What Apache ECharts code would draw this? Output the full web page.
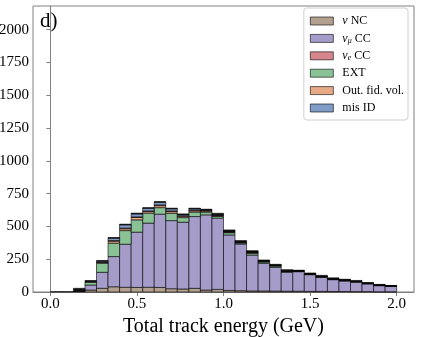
<!doctype html>
<html>
<head>
<meta charset="UTF-8" />
<title>Total track energy</title>
<script src="https://cdn.jsdelivr.net/npm/echarts@6/dist/echarts.min.js"></script>
<style>
  html, body { margin: 0; padding: 0; background: #fff; }
  #chart { width: 421px; height: 337px; }
</style>
</head>
<body>
<div id="chart"></div>
<script>
  // 30 bins between 0 and 2 GeV
  const binStart = 0;
  const binWidth = 2 / 30;

  // events per bin, bottom of stack first
  const nuNC   = [3, 3, 0, 15, 28, 40, 36, 35, 36, 35, 25, 23, 28, 15, 20, 12, 10, 8, 8, 7, 6, 6, 5, 5, 4, 4, 3, 3, 2, 2];
  const numuCC = [0, 0, 0, 38, 122, 230, 328, 421, 489, 558, 519, 509, 547, 573, 543, 423, 356, 274, 211, 181, 144, 149, 127, 107, 90, 80, 72, 59, 46, 40];
  const ext    = [0, 0, 0, 21, 69, 102, 104, 94, 76, 50, 56, 35, 34, 21, 13, 17, 8, 14, 10, 10, 6, 3, 3, 3, 3, 3, 3, 2, 2, 2];
  const oofv   = [0, 0, 0, 4, 7, 15, 14, 18, 12, 15, 13, 10, 10, 8, 5, 4, 3, 3, 3, 3, 2, 2, 2, 2, 2, 2, 1, 1, 1, 1];
  const nueCC  = [0, 0, 0, 2, 3, 5, 5, 5, 5, 6, 5, 5, 5, 4, 3, 3, 2, 2, 2, 2, 2, 1, 1, 1, 1, 1, 1, 1, 1, 1];
  const misID  = [0, 0, 0, 4, 7, 18, 25, 22, 20, 20, 16, 9, 10, 4, 4, 3, 2, 2, 2, 2, 2, 1, 1, 1, 1, 1, 1, 1, 1, 1];
  const other  = [0, 0, 28, 2, 3, 5, 5, 6, 5, 5, 5, 4, 5, 6, 12, 11, 11, 12, 8, 6, 8, 4, 6, 8, 7, 6, 7, 5, 5, 3];

  const xTicks = [0, 0.5, 1.0, 1.5, 2.0];
  const yTicks = [0, 250, 500, 750, 1000, 1250, 1500, 1750, 2000];

  const layers = [
    { name: 'nuNC',   values: nuNC,   color: '#b3a190' },
    { name: 'numuCC', values: numuCC, color: '#a69cca' },
    { name: 'EXT',    values: ext,    color: '#88c295' },
    { name: 'OOFV',   values: oofv,   color: '#e7a986' },
    { name: 'nueCC',  values: nueCC,  color: '#d6868a' },
    { name: 'misID',  values: misID,  color: '#829cc8' },
    { name: 'other',  values: other,  color: '#111111' }
  ];

  const labels = {
    nuNC: '{g|}{n|ν}{t| NC}',
    numuCC: '{g|}{n|ν}{s|μ}{t| CC}',
    nueCC: '{g|}{n|ν}{s|e}{t| CC}',
    EXT: '{g|}{t|EXT}',
    OOFV: '{g|}{t|Out. fid. vol.}',
    misID: '{g|}{t|mis ID}'
  };

  const base = new Array(nuNC.length).fill(0);
  const series = layers.map(l => {
    const data = [];
    l.values.forEach((v, i) => {
      const x0 = binStart + i * binWidth;
      if (v > 0) data.push([x0, x0 + binWidth, base[i], base[i] + v]);
      base[i] += v;
    });
    return {
      type: 'custom',
      name: l.name,
      itemStyle: { color: l.color, borderColor: 'rgba(0,0,0,0.6)', borderWidth: 1 },
      encode: { x: [0, 1], y: [2, 3] },
      renderItem: (params, api) => {
        const a = api.coord([api.value(0), api.value(3)]);
        const b = api.coord([api.value(1), api.value(2)]);
        return {
          type: 'rect',
          shape: { x: a[0], y: a[1], width: b[0] - a[0], height: b[1] - a[1] },
          style: { fill: l.color, stroke: 'rgba(0,0,0,0.6)', lineWidth: 1 }
        };
      },
      data: data
    };
  });

  const serif = '"Liberation Serif", "DejaVu Serif", serif';
  const chart = echarts.init(document.getElementById('chart'), null, { renderer: 'canvas' });
  chart.setOption({
    animation: false,
    grid: { left: 33, right: 7, top: 6, bottom: 45, outerBoundsMode: 'none', containLabel: false,
      show: true, borderColor: '#808080', borderWidth: 1 },
    xAxis: {
      type: 'value', min: -0.1, max: 2.1,
      name: 'Total track energy (GeV)', nameLocation: 'middle', nameGap: 24,
      nameTextStyle: { fontFamily: serif, fontSize: 20, color: '#000' },
      axisLine: { show: true, lineStyle: { color: '#808080' } },
      axisTick: { show: true, length: 4, lineStyle: { color: '#808080' }, customValues: xTicks },
      axisLabel: { fontFamily: serif, fontSize: 15, color: '#000', margin: 5, customValues: xTicks,
        formatter: v => v.toFixed(1) },
      splitLine: { show: false }
    },
    yAxis: {
      type: 'value', min: 0, max: 2180,
      axisLine: { show: true, lineStyle: { color: '#808080' } },
      axisTick: { show: true, length: 4, lineStyle: { color: '#808080' }, customValues: yTicks },
      axisLabel: { fontFamily: serif, fontSize: 15, color: '#000', margin: 4, customValues: yTicks,
        formatter: v => String(v) },
      splitLine: { show: false }
    },
    legend: {
      data: ['nuNC', 'numuCC', 'nueCC', 'EXT', 'OOFV', 'misID'],
      orient: 'vertical', right: 13, top: 8,
      itemWidth: 23, itemHeight: 8, itemGap: 5.4,
      padding: [7, 4, 6, 6],
      backgroundColor: '#fff', borderColor: '#d0d0d0', borderWidth: 1, borderRadius: 3,
      icon: 'rect',
      itemStyle: { borderColor: 'rgba(0,0,0,0.6)', borderWidth: 1 },
      formatter: n => labels[n],
      textStyle: {
        rich: {
          g: { width: 4, lineHeight: 12 },
          t: { fontFamily: serif, fontSize: 12, lineHeight: 12, color: '#000' },
          n: { fontFamily: serif, fontSize: 12, lineHeight: 12, fontStyle: 'italic', color: '#000' },
          s: { fontFamily: serif, fontSize: 8, lineHeight: 12, fontStyle: 'italic', color: '#000', verticalAlign: 'bottom' }
        }
      }
    },
    graphic: [{
      type: 'text', left: 40, top: 11,
      style: { text: 'd)', fontFamily: serif, fontSize: 21, fill: '#000' }
    }],
    series: series
  });
</script>
</body>
</html>
